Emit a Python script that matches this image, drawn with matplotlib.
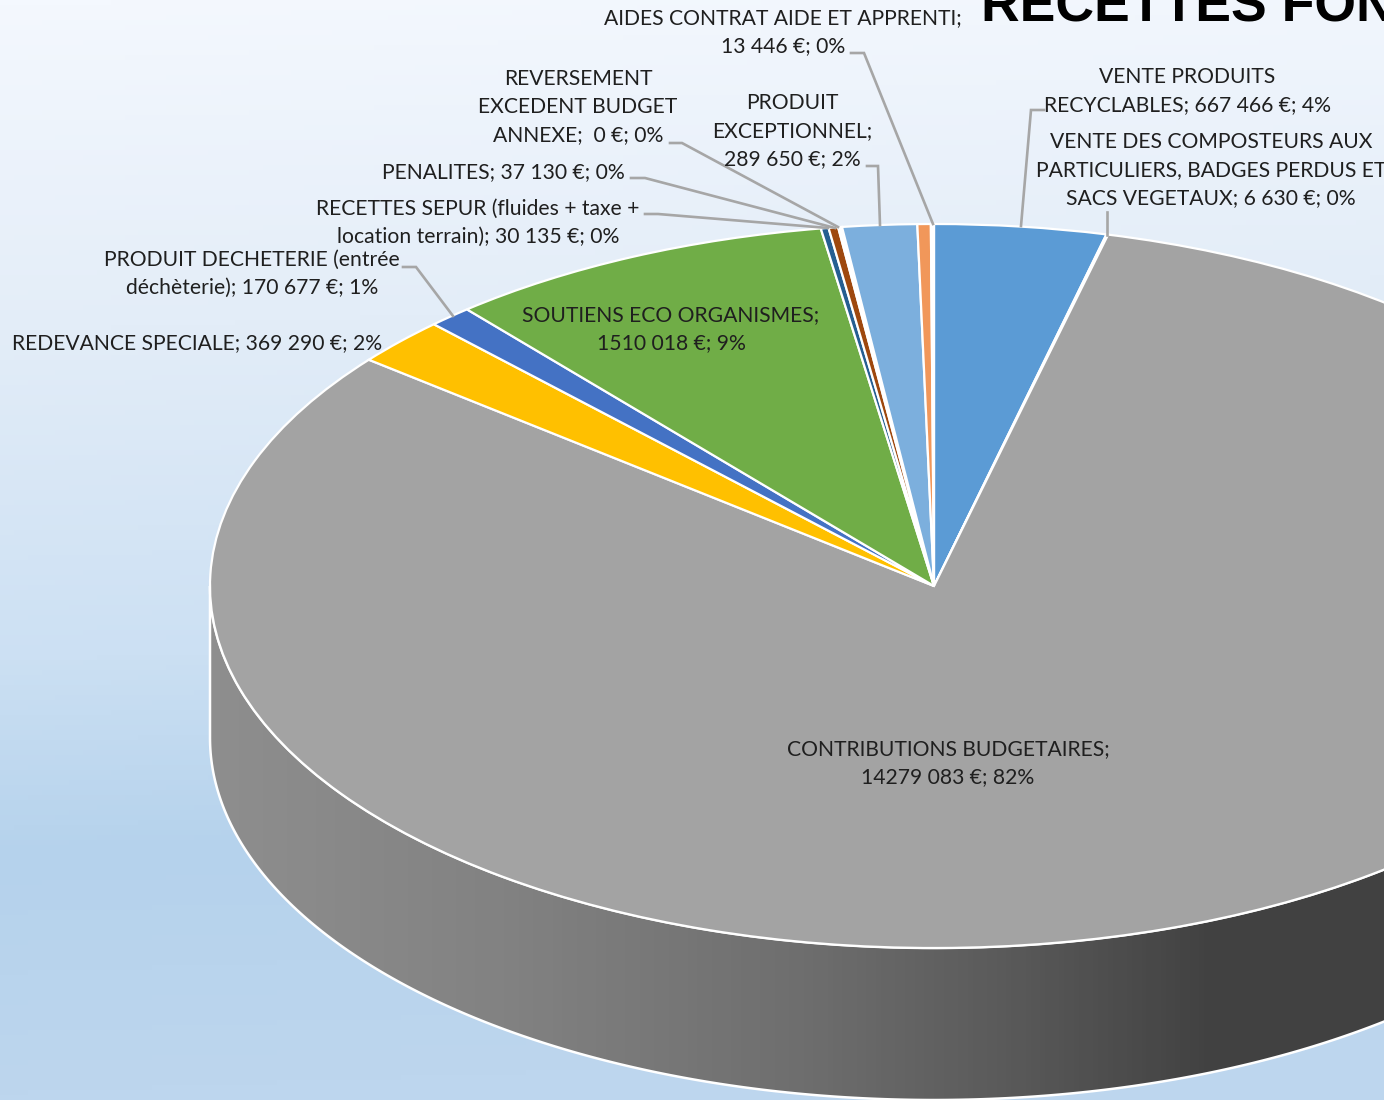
import matplotlib
matplotlib.use('Agg')
import matplotlib.pyplot as plt
import numpy as np
from matplotlib.colors import LinearSegmentedColormap
from matplotlib.patches import Polygon

# valeurs du camembert, dans l'ordre horaire depuis midi
# (AIDES et REVERSEMENT: largeur, plus grande que leur etiquette)
postes = ['VENTE PRODUITS RECYCLABLES', 'VENTE DES COMPOSTEURS', 'CONTRIBUTIONS BUDGETAIRES',
          'REDEVANCE SPECIALE', 'PRODUIT DECHETERIE', 'SOUTIENS ECO ORGANISMES',
          'RECETTES SEPUR', 'PENALITES', 'REVERSEMENT EXCEDENT', 'PRODUIT EXCEPTIONNEL', 'AIDES CONTRAT', 'ECART']
montants = [667466, 6630, 14279083, 369290, 170677, 1510018, 30135, 37130, 15000, 289650, 52000, 12000]
couleurs = ['#5B9BD5', '#ED7D31', '#A3A3A3', '#FFC000', '#4472C4', '#70AD47',
            '#255E91', '#9E480E', '#FFFFFF', '#7CAFDD', '#F1975A', '#FFFFFF']

etiquettes = ['AIDES CONTRAT AIDE ET APPRENTI;\n13 446 €; 0%',
              'REVERSEMENT\nEXCEDENT BUDGET\nANNEXE;  0 €; 0%',
              'PRODUIT\nEXCEPTIONNEL;\n289 650 €; 2%',
              'PENALITES; 37 130 €; 0%',
              'RECETTES SEPUR (fluides + taxe +\nlocation terrain); 30 135 €; 0%',
              'PRODUIT DECHETERIE (entrée\ndéchèterie); 170 677 €; 1%',
              'REDEVANCE SPECIALE; 369 290 €; 2%',
              'SOUTIENS ECO ORGANISMES;\n1510 018 €; 9%',
              'CONTRIBUTIONS BUDGETAIRES;\n14279 083 €; 82%',
              'VENTE PRODUITS\nRECYCLABLES; 667 466 €; 4%',
              'VENTE DES COMPOSTEURS AUX\nPARTICULIERS, BADGES PERDUS ET\nSACS VEGETAUX; 6 630 €; 0%']
pos_etiquettes = [(783, 32), (578, 107), (792, 131), (503, 172), (478, 223), (252, 274),
                  (197, 343), (671, 329), (948, 763), (1187, 91), (1211, 170)]

# lignes de repere
reperes = [[(851, 53), (864, 53), (933, 224)],
           [(1044, 110), (1031, 110), (1021, 226)],
           [(1107, 212), (1107, 235)],
           [(867, 166), (878, 166), (880, 225)],
           [(670, 143), (682, 143), (838, 227)],
           [(631, 178), (645, 178), (835, 228)],
           [(645, 214), (658, 214), (828, 228)],
           [(403, 267), (416, 267), (453, 316)]]

W, H = 1384, 1100
CX, CY, RX, RY, EP = 934, 586, 724, 362, 152

fig = plt.figure(figsize=(W / 100, H / 100), dpi=100)

# fond degrade
fond = fig.add_axes([0, 0, 1, 1], zorder=0)
fond.set_xlim(0, W)
fond.set_ylim(H, 0)
fond.axis('off')
cm_fond = LinearSegmentedColormap.from_list('fond', [(0, '#F4F8FE'), (0.3, '#E3EDF8'), (0.6, '#CCE0F3'),
                                                     (0.78, '#B5D2EC'), (1, '#BDD6EE')])
yy, xx = np.mgrid[0:1:220j, 0:1:100j]
fond.imshow(np.clip(yy + 0.05 * xx, 0, 1), cmap=cm_fond, vmin=0, vmax=1, extent=[0, W, H, 0], aspect='auto')

# tranche du cylindre
t = np.linspace(0, np.pi, 300)
bas = np.c_[CX + RX * np.cos(t), CY + EP + RY * np.sin(t)]
haut = np.c_[CX + RX * np.cos(t[::-1]), CY + RY * np.sin(t[::-1])]
contour = Polygon(np.r_[bas, haut], closed=True, facecolor='none', edgecolor='white', lw=1.8)
fond.add_patch(contour)
cm_cote = LinearSegmentedColormap.from_list('cote', [(0, '#8E8E8E'), (0.2, '#828282'), (0.41, '#6E6E6E'),
                                                     (0.55, '#5A5A5A'), (0.69, '#424242'), (1, '#404040')])
grad = fond.imshow(np.linspace(0, 1, 300)[None, :], cmap=cm_cote, extent=[CX - RX, CX + RX, H + 50, CY],
                   aspect='auto')
grad.set_clip_path(contour)
fond.set_xlim(0, W)
fond.set_ylim(H, 0)

# dessus du camembert
ax = fig.add_axes([(CX - RX) / W, 1 - (CY + RY) / H, 2 * RX / W, 2 * RY / H], zorder=1)
ax.pie(montants, colors=couleurs, startangle=90, counterclock=False, radius=1,
       wedgeprops={'edgecolor': 'white', 'linewidth': 1.6})
ax.set_aspect('auto')
ax.set_xlim(-1, 1)
ax.set_ylim(-1, 1)

# textes et reperes
sur = fig.add_axes([0, 0, 1, 1], zorder=2)
sur.set_xlim(0, W)
sur.set_ylim(H, 0)
sur.axis('off')
for r in reperes:
    xs, ys = zip(*r)
    sur.plot(xs, ys, color='#A6A6A6', lw=1.9, solid_joinstyle='miter')
for txt, (x, y) in zip(etiquettes, pos_etiquettes):
    sur.text(x, y, txt, ha='center', va='center', family='Lato', fontsize=15.2, color='#1F1F1F',
             linespacing=1.52, multialignment='center')
sur.text(981, 22, 'RECETTES FON', ha='left', va='baseline', family='Liberation Sans', weight='bold',
         fontsize=38.5, color='black', clip_on=True)

fig.savefig('out.png', dpi=100)
